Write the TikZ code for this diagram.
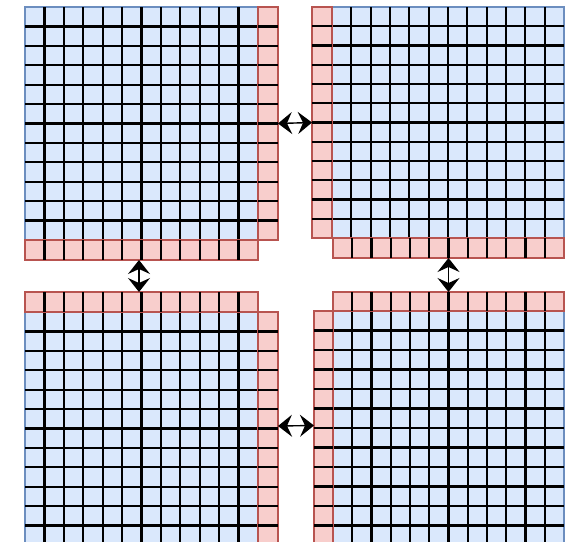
\documentclass[tikz,border=0pt]{standalone}
\usetikzlibrary{arrows.meta,fit,calc}
\definecolor{bluefill}{HTML}{DAE8FC}
\definecolor{bluedraw}{HTML}{6C8EBF}
\definecolor{redfill}{HTML}{F8CECC}
\definecolor{reddraw}{HTML}{B85450}
\tikzset{
  bluecell/.style={fill=bluefill, draw=bluedraw, line width=1.6pt, inner sep=0pt, outer sep=0pt},
  redcell/.style={fill=redfill, draw=reddraw, line width=1.8pt, inner sep=0pt, outer sep=0pt},
  gridline/.style={draw=black, line width=2.2pt},
  arrowtip/.tip={Stealth[length=14pt,width=22pt,inset=5pt]},
  dblarrow/.style={draw=black, line width=1.4pt, arrowtip-arrowtip}
}
\newcommand\bluegridblock[5]{% name, x0, y0, x1, y1
  \node[bluecell, fit={(#2,#3) (#4,#5)}] (#1) {};
  \foreach \i in {1,...,11}{
    \draw[gridline] ($(#1.north west)!\i/12!(#1.north east)$) -- ($(#1.south west)!\i/12!(#1.south east)$);
    \draw[gridline] ($(#1.north west)!\i/12!(#1.south west)$) -- ($(#1.north east)!\i/12!(#1.south east)$);
  }
}
\newcommand\redvstrip[5]{% vertical strip of 12 cells
  \node[redcell, fit={(#2,#3) (#4,#5)}] (#1) {};
  \foreach \i in {1,...,11}{
    \draw[gridline] ($(#1.north west)!\i/12!(#1.south west)$) -- ($(#1.north east)!\i/12!(#1.south east)$);
  }
}
\newcommand\redhstrip[5]{% horizontal strip of 12 cells
  \node[redcell, fit={(#2,#3) (#4,#5)}] (#1) {};
  \foreach \i in {1,...,11}{
    \draw[gridline] ($(#1.north west)!\i/12!(#1.north east)$) -- ($(#1.south west)!\i/12!(#1.south east)$);
  }
}
\begin{document}
\begin{tikzpicture}[x=1pt, y=-1pt]
\useasboundingbox (0,0) rectangle (572,541);
\clip (0,0) rectangle (572,541);
% top-left block
\bluegridblock{tlb}{25}{7}{258}{240}
\redvstrip{tlc}{258}{7}{278}{240}
\redhstrip{tlr}{25}{240}{258}{260}
% top-right block
\bluegridblock{trb}{332}{7}{564}{238}
\redvstrip{trc}{312}{7}{332}{238}
\redhstrip{trr}{333}{238}{564}{258}
% bottom-left block
\bluegridblock{blb}{25}{312}{258}{545}
\redhstrip{blr}{25}{292}{258}{312}
\redvstrip{blc}{258}{312}{278}{545}
% bottom-right block
\bluegridblock{brb}{333}{311}{564}{545}
\redhstrip{brr}{333}{292}{564}{311}
\redvstrip{brc}{314}{311}{333}{545}
% exchange arrows
\draw[dblarrow] (tlc.east) -- (trc.west);
\draw[dblarrow] ([xshift=-2.5pt]tlr.south) -- ([xshift=-2.5pt]blr.north);
\draw[dblarrow] (trr.south) -- (brr.north);
\draw[dblarrow] ([yshift=2.5pt]blc.east) -- ([yshift=2.5pt]brc.west);
\end{tikzpicture}
\end{document}
